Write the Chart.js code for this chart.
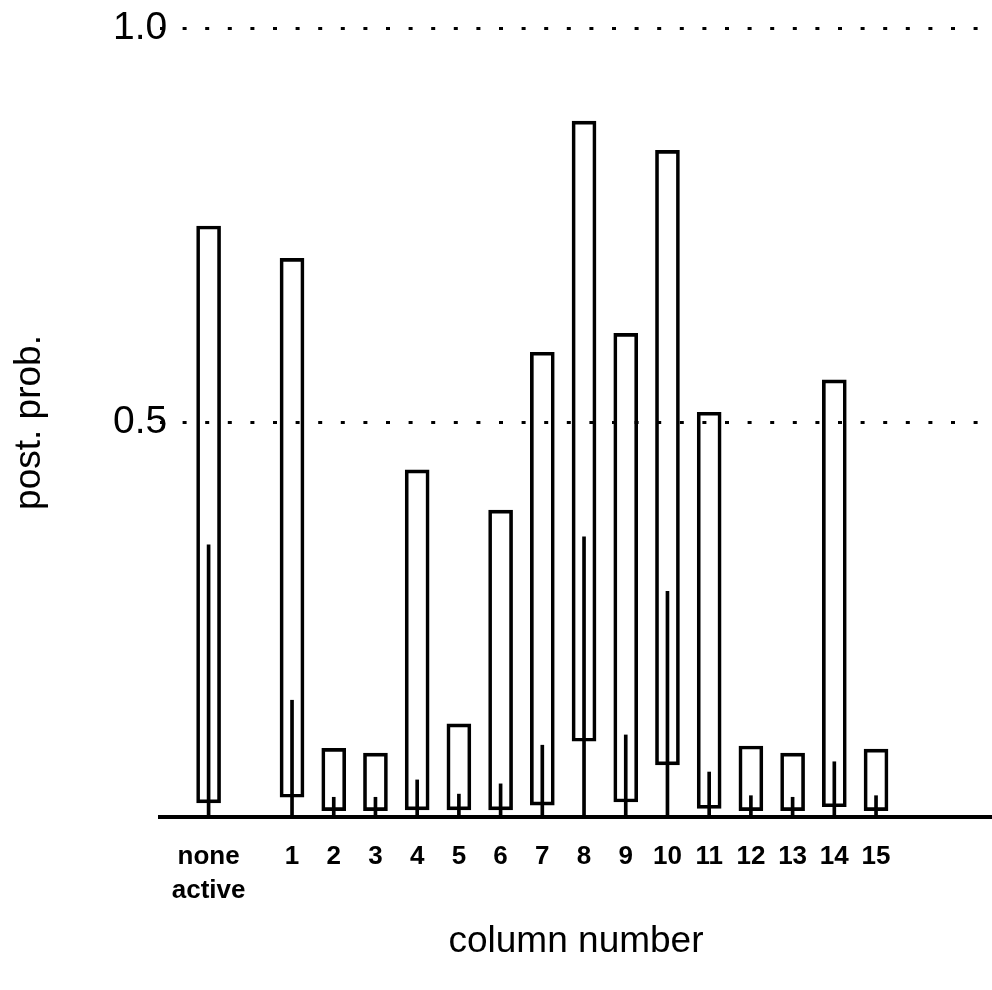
<!DOCTYPE html>
<html>
<head>
<meta charset="utf-8">
<title>post. prob. by column</title>
<script src="https://cdn.jsdelivr.net/npm/chart.js@4.4.1/dist/chart.umd.min.js"></script>
<style>
    html, body { margin: 0; padding: 0; background: #fff; }
    #wrap { width: 992px; height: 990px; }
</style>
</head>
<body>
<div id="wrap"><canvas id="prob-chart"></canvas></div>
<script>
// ---- data ---- //
const columns = ["none active", "1", "2", "3", "4", "5", "6", "7", "8", "9", "10", "11", "12", "13", "14", "15"];
// x slot of each column ("none active" sits one slot left of column 1)
const slots = [-1, 1, 2, 3, 4, 5, 6, 7, 8, 9, 10, 11, 12, 13, 14, 15];
// open box: low and high end
const boxLow  = [0.018, 0.025, 0.008, 0.008, 0.009, 0.009, 0.009, 0.015, 0.096, 0.019, 0.066, 0.011, 0.008, 0.008, 0.013, 0.008];
const boxHigh = [0.749, 0.708, 0.087, 0.081, 0.440, 0.118, 0.389, 0.589, 0.882, 0.613, 0.845, 0.513, 0.090, 0.081, 0.554, 0.086];
// thin line from zero inside each box
const lineHigh = [0.345, 0.148, 0.025, 0.025, 0.047, 0.029, 0.042, 0.091, 0.355, 0.104, 0.286, 0.057, 0.027, 0.025, 0.070, 0.027];
const yTicks = [0, 0.5, 1.0];

const FONT = "'Liberation Sans', Arial, Helvetica, sans-serif";

const boxData = slots.map((x, i) => ({ x: x, y: [boxLow[i], boxHigh[i]] }));
const lineData = slots.map((x, i) => ({ x: x, y: [0, lineHigh[i]] }));

const ctx = document.getElementById("prob-chart");
const probChart = new Chart(ctx, {
    type: 'bar',
    data: {
        datasets: [{
            label: "line",
            data: lineData,
            backgroundColor: "#000",
            borderWidth: 0,
            barThickness: 3,
            grouped: false,
            order: 0
        }, {
            label: "box",
            data: boxData,
            backgroundColor: "rgba(0,0,0,0)",
            borderColor: "#000",
            borderWidth: 3,
            borderSkipped: false,
            barThickness: 24,
            grouped: false,
            order: 1
        }]
    },
    options: {
        responsive: true,
        maintainAspectRatio: false,
        animation: false,
        layout: { padding: { top: 28, right: 0, left: 0, bottom: 0 } },
        plugins: {
            legend: { display: false },
            tooltip: { enabled: false }
        },
        scales: {
            x: {
                type: 'linear',
                offset: false,
                min: -2.165,
                max: 17.78,
                afterBuildTicks: (scale) => {
                    scale.ticks = slots.map(v => ({ value: v }));
                },
                afterFit: (scale) => { scale.height = 173; },
                ticks: {
                    color: "#000",
                    padding: 23,
                    maxRotation: 0,
                    autoSkip: false,
                    font: { family: FONT, size: 26, weight: 'bold', lineHeight: 1.3 },
                    callback: (value) => {
                        const i = slots.indexOf(value);
                        if (i < 0) return "";
                        const name = columns[i];
                        return name.indexOf(" ") > 0 ? name.split(" ") : name;
                    }
                },
                grid: { display: true, drawOnChartArea: false, drawTicks: false },
                border: { display: true, color: "#000", width: 4 },
                title: {
                    display: true,
                    text: "column number",
                    color: "#000",
                    font: { family: FONT, size: 37 },
                    padding: { top: 0, bottom: 26 }
                }
            },
            y: {
                min: 0,
                max: 1,
                afterBuildTicks: (scale) => {
                    scale.ticks = yTicks.map(v => ({ value: v }));
                },
                afterFit: (scale) => { scale.width = 160; },
                ticks: {
                    color: "#000",
                    mirror: true,
                    crossAlign: 'near',
                    padding: -47,
                    font: { family: FONT, size: 39 },
                    callback: (value) => value === 0 ? "" : value.toFixed(1)
                },
                grid: {
                    drawTicks: false,
                    lineWidth: 3,
                    color: (c) => (c.tick && c.tick.value === 0) ? "rgba(0,0,0,0)" : "#000"
                },
                border: { display: false, dash: [4, 18.6] },
                title: {
                    display: true,
                    text: "post. prob.",
                    color: "#000",
                    font: { family: FONT, size: 37 },
                    padding: { top: 8, bottom: 0 }
                }
            }
        }
    }
});
</script>
</body>
</html>
